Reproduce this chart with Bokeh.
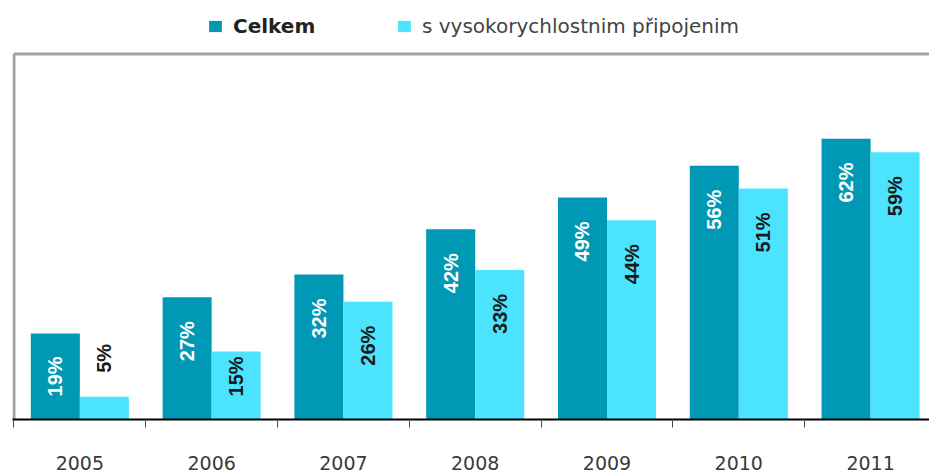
import math
from bokeh.plotting import figure
from bokeh.models import (Range1d, FixedTicker, LinearAxis, Legend,
                          LegendItem, ColumnDataSource)
from bokeh.core.properties import value
from bokeh.embed import file_html
from bokeh.resources import INLINE

years = ["2005", "2006", "2007", "2008", "2009", "2010", "2011"]
celkem = [19, 27, 32, 42, 49, 56, 62]
vysoko = [5, 15, 26, 33, 44, 51, 59]
series_names = ["Celkem", "s vysokorychlostnim připojenim"]

DARK = "#0099B5"
LIGHT = "#4CE3FF"
FRAME = "#a3a3a3"

n = len(years)
bar_w = 0.372
dark_x = [i + 0.5 - bar_w / 2 for i in range(n)]
light_x = [i + 0.5 + bar_w / 2 for i in range(n)]

def label_pos(v):
    if v < 10:
        return v + 8.5
    return max(v - 9.7, 9.5)

src_d = ColumnDataSource(dict(x=dark_x, top=celkem,
                              ly=[label_pos(v) for v in celkem],
                              txt=[f"{v}%" for v in celkem],
                              col=["white"] * n))
src_l = ColumnDataSource(dict(x=light_x, top=vysoko,
                              ly=[label_pos(v) for v in vysoko],
                              txt=[f"{v}%" for v in vysoko],
                              col=["#1a1a1a"] * n))

X_START, X_END = -0.011, 6.947
Y_END = 92.5       # data range (legend sits in the top part of the frame)
Y_BOX = 80.7       # top of the drawn chart box

p = figure(width=929, height=475, output_backend="svg", toolbar_location=None,
           x_range=Range1d(X_START, X_END), y_range=Range1d(0, Y_END),
           x_axis_type=None, y_axis_type=None,
           min_border_left=12, min_border_right=0, min_border_top=0,
           min_border_bottom=56)
p.outline_line_color = None
p.xgrid.visible = False
p.ygrid.visible = False
p.background_fill_color = "white"
p.border_fill_color = "white"

# chart box (left and top sides)
p.segment(x0=[0, 0], y0=[0, Y_BOX], x1=[0, X_END], y1=[Y_BOX, Y_BOX],
          line_color=FRAME, line_width=3)

r1 = p.vbar(x="x", top="top", width=bar_w, bottom=0, source=src_d,
            fill_color=DARK, line_color=None)
r2 = p.vbar(x="x", top="top", width=bar_w, bottom=0, source=src_l,
            fill_color=LIGHT, line_color=None)

for s in (src_d, src_l):
    p.text(x="x", y="ly", text="txt", source=s, angle=math.pi / 2,
           text_align="center", text_baseline="middle",
           text_font=value("Liberation Sans"), text_font_style="bold",
           text_font_size="20px", text_color="col")

xaxis = LinearAxis(
    ticker=FixedTicker(ticks=[i + 0.5 for i in range(n)],
                       minor_ticks=list(range(n + 1))),
    major_label_overrides={i + 0.5: y for i, y in enumerate(years)},
)
xaxis.axis_line_color = "black"
xaxis.axis_line_width = 2
xaxis.major_tick_line_color = None
xaxis.major_tick_out = 0
xaxis.major_tick_in = 0
xaxis.minor_tick_line_color = "#444444"
xaxis.minor_tick_out = 8
xaxis.minor_tick_in = 0
xaxis.major_label_standoff = 28
xaxis.major_label_text_font = "DejaVu Sans"
xaxis.major_label_text_font_size = "19px"
xaxis.major_label_text_color = "#3a3a3a"
p.add_layout(xaxis, "below")

common = dict(border_line_color=None, background_fill_alpha=0, padding=0,
              margin=0, glyph_width=16, glyph_height=14, label_standoff=10,
              label_text_font="DejaVu Sans", label_text_font_size="20px",
              orientation="horizontal", spacing=0)
leg1 = Legend(items=[LegendItem(label=series_names[0], renderers=[r1])],
              location=(195, 381), label_text_font_style="bold",
              label_text_color="#222222", **common)
leg2 = Legend(items=[LegendItem(label=series_names[1], renderers=[r2])],
              location=(384, 381), label_text_color="#444444", **common)
p.add_layout(leg1)
p.add_layout(leg2)

open("out.html", "w").write(file_html(p, INLINE))
